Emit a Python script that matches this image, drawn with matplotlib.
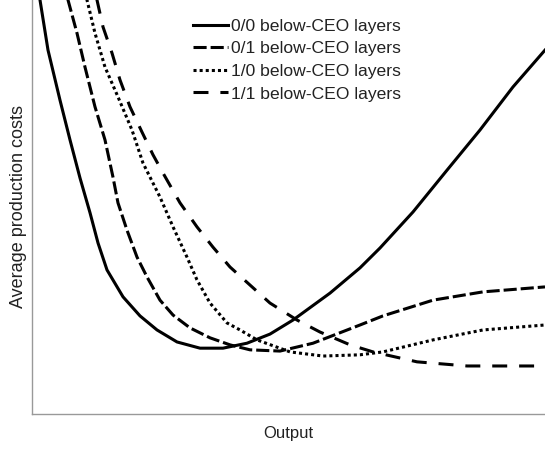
import matplotlib
matplotlib.use("Agg")
import matplotlib.pyplot as plt

plt.rcParams['font.family'] = ['Liberation Sans', 'DejaVu Sans']

# Output (0-100) and average production cost (0-100)
x_00 = [1.17, 1.56, 3.12, 5.46, 7.41, 9.36, 11.31, 12.87, 14.62, 17.74, 21.05, 24.37, 28.27, 32.75, 37.23,
        41.91, 46.39, 50.88, 58.09, 63.94, 67.84, 74.27, 80.90, 87.33, 93.76, 100]
y_00 = [102.4, 100, 87.9, 75.8, 66.2, 57.0, 48.6, 41.3, 34.8, 28.3, 23.7, 20.3, 17.4, 15.9, 15.9,
        17.1, 19.3, 22.7, 29.2, 35.3, 40.1, 48.8, 58.9, 68.6, 79.0, 87.9]

x_01 = [6.63, 7.02, 8.77, 10.33, 12.28, 14.23, 15.79, 16.76, 18.52, 20.47, 22.42, 24.95, 27.49, 30.80,
        34.70, 38.60, 42.50, 48.34, 54.78, 63.94, 68.42, 78.17, 87.91, 100]
y_01 = [102.4, 100, 92.0, 83.8, 74.2, 66.2, 57.2, 51.0, 44.4, 37.9, 33.1, 27.5, 23.9, 20.8,
        18.4, 16.7, 15.5, 15.2, 17.1, 21.5, 23.7, 27.5, 29.5, 30.7]

x_10 = [10.53, 10.72, 12.28, 14.23, 16.76, 19.49, 21.64, 24.95, 27.49, 30.21, 32.16, 34.70, 38.01,
        40.55, 43.86, 50.29, 56.73, 63.94, 68.42, 78.17, 87.91, 100]
y_10 = [102.4, 100, 92.0, 83.8, 76.6, 68.6, 60.6, 52.4, 45.2, 37.9, 32.4, 26.8, 22.0,
        20.3, 17.9, 15.0, 14.0, 14.3, 15.0, 17.9, 20.3, 21.5]

x_11 = [12.48, 12.67, 13.84, 15.59, 17.15, 19.10, 21.44, 23.59, 25.54, 28.85, 32.16, 35.28, 38.60,
        46.39, 51.66, 56.14, 62.01, 66.47, 75.05, 84.80, 100]
y_11 = [102.4, 100, 93.5, 87.2, 80.7, 74.2, 68.1, 62.6, 58.2, 51.0, 45.2, 40.3, 35.5,
        26.8, 22.7, 19.8, 16.7, 15.0, 12.6, 11.6, 11.6]

labels = ["0/0 below-CEO layers", "0/1 below-CEO layers",
          "1/0 below-CEO layers", "1/1 below-CEO layers"]

fig = plt.figure(figsize=(5.45, 4.49), dpi=100)
ax = fig.add_axes([32/545, 35/449, 513/545, 414/449])

lw = 2.2
ax.plot(x_00, y_00, color='black', lw=lw, linestyle='-', label=labels[0], solid_joinstyle='round')
ax.plot(x_01, y_01, color='black', lw=lw, linestyle=(0, (4.3, 1.3)), label=labels[1], dash_capstyle='butt')
ax.plot(x_10, y_10, color='black', lw=lw, linestyle=(0, (1, 1)), label=labels[2], dash_capstyle='butt')
ax.plot(x_11, y_11, color='black', lw=lw, linestyle=(0, (4.9, 3.9)), label=labels[3], dash_capstyle='butt')

ax.set_xlim(0, 100)
ax.set_ylim(0, 100)
ax.set_xticks([])
ax.set_yticks([])
for s in ['top', 'right']:
    ax.spines[s].set_visible(False)
for s in ['left', 'bottom']:
    ax.spines[s].set_color('#999999')
    ax.spines[s].set_linewidth(1.0)

ax.set_xlabel("Output", fontsize=12, color='#222222', labelpad=8.5)
ax.set_ylabel("Average production costs", fontsize=13, color='#222222', labelpad=3.5)

leg = ax.legend(loc='upper left', bbox_to_anchor=((193-32)/513, 1 - 18.5/414),
                frameon=False, fontsize=12.6, handlelength=2.0, handletextpad=0.15,
                labelspacing=0.42, borderaxespad=0, borderpad=0)
for t in leg.get_texts():
    t.set_color('#222222')

fig.savefig("out.png", dpi=100)
